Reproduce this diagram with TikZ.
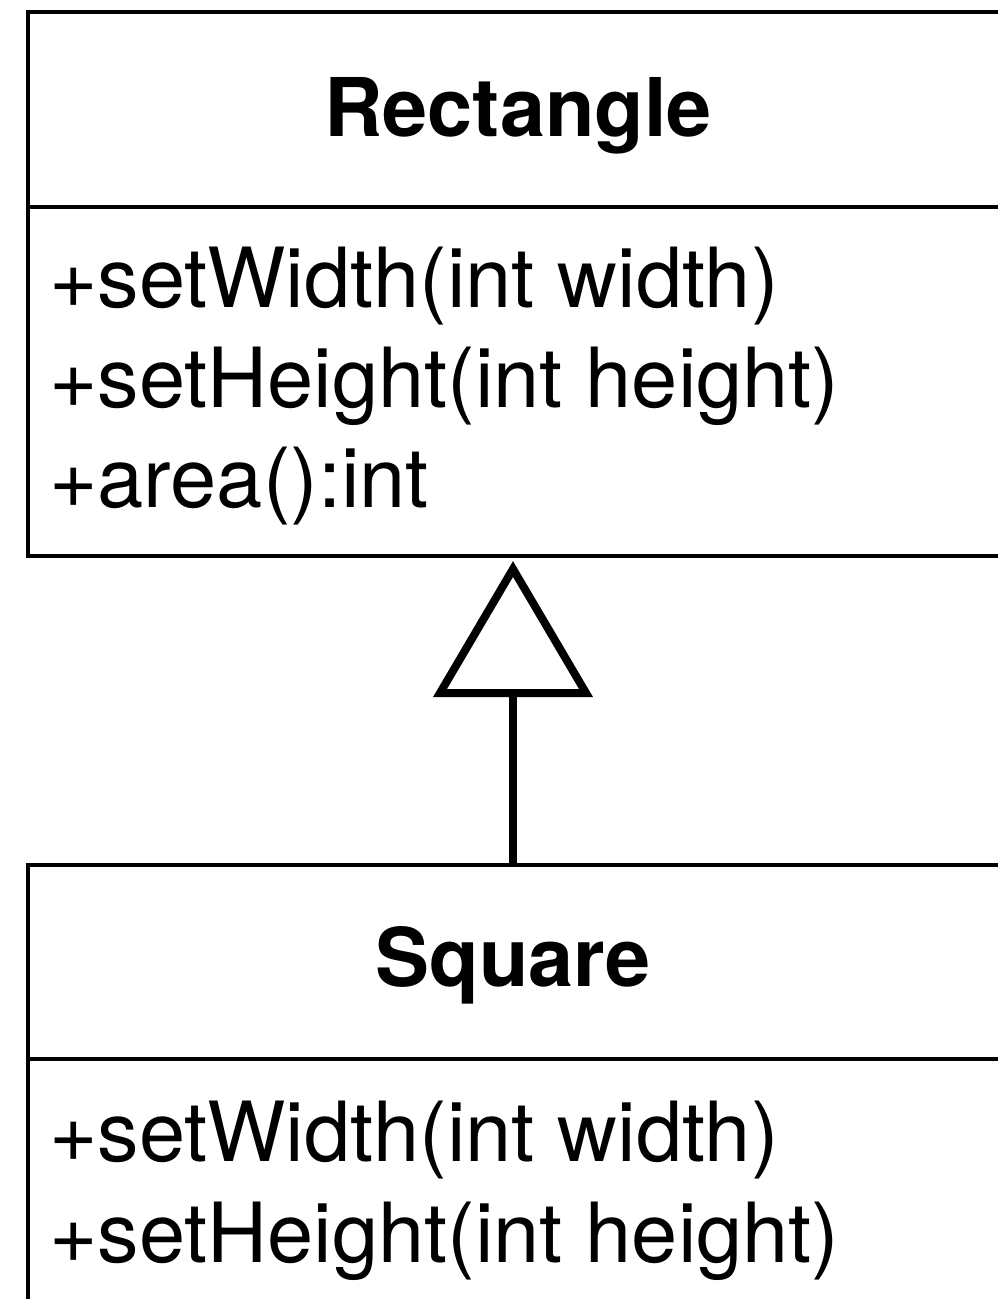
\documentclass[tikz,border=0pt]{standalone}
\usepackage{fontspec}
\setmainfont{TeX Gyre Heros}
\begin{document}
\begin{tikzpicture}[x=1pt,y=-1pt,
  classbox/.style={draw=black,line width=4pt,anchor=north west,inner sep=0pt,minimum width=973pt},
  sepline/.style={line width=4pt},
  titletext/.style={inner sep=0pt,anchor=base,font=\fontsize{81}{97}\selectfont\bfseries},
  methtext/.style={inner sep=0pt,anchor=base west,font=\fontsize{83}{100}\selectfont},
  inherit/.style={line width=8pt,line join=miter,line cap=round}]
\useasboundingbox (0,0) rectangle (998,1299);
\clip (0,0) rectangle (998,1299);
% Rectangle class
\node[classbox,minimum height=544pt] (rect) at (26,10) {};
\draw[sepline] (26,207) -- (999,207);
\node[titletext] (rectname) at (518,136) {Rectangle};
\node[methtext] (rm1) at (49,307) {+setWidth(int width)};
\node[methtext] (rm2) at (49,407) {+setHeight(int height)};
\node[methtext] (rm3) at (49,507) {+area():int};
% Square class
\node[classbox,minimum height=500pt] (sq) at (26,863) {};
\draw[sepline] (26,1059) -- (999,1059);
\node[titletext] (sqname) at (513,986) {Square};
\node[methtext] (sm1) at (49,1161) {+setWidth(int width)};
\node[methtext] (sm2) at (49,1262) {+setHeight(int height)};
% Generalization arrow
\coordinate (tip) at (513,569);
\coordinate (tbase) at (513,693);
\draw[inherit,fill=white] (tip) -- (440,693) -- (586,693) -- cycle;
\draw[inherit] (sq.north -| tbase) -- (tbase);
\end{tikzpicture}
\end{document}
